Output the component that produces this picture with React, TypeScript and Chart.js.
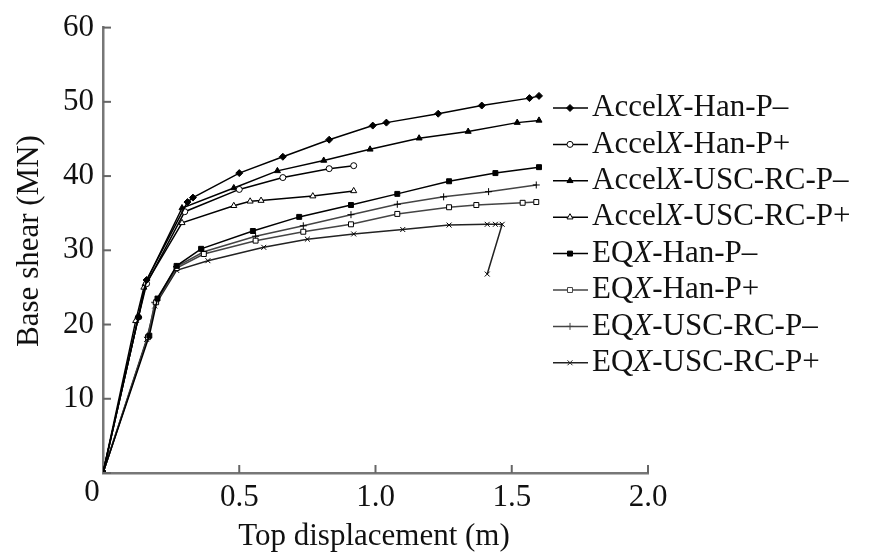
import React, { useEffect, useRef } from "react";
import { Chart, registerables } from "chart.js";
import { drawPoint } from "chart.js/helpers";

Chart.register(...registerables);

const FONT = '"Liberation Serif", "Times New Roman", serif';

const seriesLabels = [
  "AccelX-Han-P–",
  "AccelX-Han-P+",
  "AccelX-USC-RC-P–",
  "AccelX-USC-RC-P+",
  "EQX-Han-P–",
  "EQX-Han-P+",
  "EQX-USC-RC-P–",
  "EQX-USC-RC-P+",
];

const accelHanPmX = [0, 0.13, 0.16, 0.31, 0.33, 0.5, 0.66, 0.83, 0.99, 1.04, 1.23, 1.39, 1.565, 1.6];
const accelHanPmY = [0, 21, 26, 36.5, 37.1, 40.4, 42.6, 44.9, 46.8, 47.2, 48.4, 49.5, 50.5, 50.8];

const accelHanPpX = [0, 0.13, 0.16, 0.3, 0.5, 0.66, 0.83, 0.92];
const accelHanPpY = [0, 21, 25.5, 35.2, 38.2, 39.8, 41.0, 41.4];

const accelUscPmX = [0, 0.13, 0.155, 0.29, 0.48, 0.64, 0.81, 0.98, 1.16, 1.34, 1.52, 1.6];
const accelUscPmY = [0, 21, 25.5, 35.7, 38.4, 40.7, 42.1, 43.6, 45.1, 46.0, 47.2, 47.5];

const accelUscPpX = [0, 0.12, 0.15, 0.29, 0.48, 0.54, 0.58, 0.77, 0.92];
const accelUscPpY = [0, 20.5, 25, 33.7, 36.0, 36.6, 36.7, 37.3, 38.0];

const eqHanPmX = [0, 0.17, 0.2, 0.27, 0.36, 0.55, 0.72, 0.91, 1.08, 1.27, 1.44, 1.6];
const eqHanPmY = [0, 18.5, 23.5, 27.9, 30.2, 32.6, 34.5, 36.1, 37.6, 39.3, 40.4, 41.2];

const eqHanPpX = [0, 0.165, 0.195, 0.27, 0.37, 0.56, 0.735, 0.91, 1.08, 1.27, 1.37, 1.54, 1.59];
const eqHanPpY = [0, 18.3, 23, 27.6, 29.5, 31.3, 32.5, 33.5, 34.9, 35.8, 36.1, 36.4, 36.5];

const eqUscPmX = [0, 0.165, 0.19, 0.27, 0.37, 0.56, 0.735, 0.91, 1.08, 1.25, 1.415, 1.59];
const eqUscPmY = [0, 18.3, 23, 27.8, 29.8, 31.9, 33.3, 34.8, 36.2, 37.2, 37.9, 38.8];

const eqUscPpX = [0, 0.16, 0.19, 0.27, 0.385, 0.59, 0.75, 0.92, 1.1, 1.27, 1.41, 1.44, 1.465, 1.41];
const eqUscPpY = [0, 18, 22.5, 27.3, 28.6, 30.4, 31.5, 32.2, 32.8, 33.4, 33.5, 33.5, 33.5, 26.8];

const xTicks = [0, 0.5, 1.0, 1.5, 2.0];
const yTicks = [0, 10, 20, 30, 40, 50, 60];

const xTitle = "Top displacement (m)";
const yTitle = "Base shear (MN)";

type Style = { pointStyle: string; fill: string; line: string; radius: number };
const styles: Style[] = [
  { pointStyle: "rectRot", fill: "#000", line: "#000", radius: 3.5 },
  { pointStyle: "circle", fill: "#fff", line: "#000", radius: 3 },
  { pointStyle: "triangle", fill: "#000", line: "#000", radius: 3.5 },
  { pointStyle: "triangle", fill: "#fff", line: "#000", radius: 3.5 },
  { pointStyle: "rect", fill: "#000", line: "#000", radius: 3.5 },
  { pointStyle: "rect", fill: "#fff", line: "#444", radius: 3.5 },
  { pointStyle: "cross", fill: "#fff", line: "#444", radius: 3.5 },
  { pointStyle: "crossRot", fill: "#fff", line: "#222", radius: 3.5 },
];

const seriesXY: [number[], number[]][] = [
  [accelHanPmX, accelHanPmY],
  [accelHanPpX, accelHanPpY],
  [accelUscPmX, accelUscPmY],
  [accelUscPpX, accelUscPpY],
  [eqHanPmX, eqHanPmY],
  [eqHanPpX, eqHanPpY],
  [eqUscPmX, eqUscPmY],
  [eqUscPpX, eqUscPpY],
];

const decorPlugin = {
  id: "decor",
  afterDraw(chart: any) {
    const { ctx, chartArea, scales } = chart;
    const xs = scales.x;
    const ys = scales.y;
    ctx.save();
    // inward ticks
    ctx.strokeStyle = "#666";
    ctx.lineWidth = 2;
    for (const v of yTicks) {
      const py = ys.getPixelForValue(v);
      ctx.beginPath();
      ctx.moveTo(chartArea.left, py);
      ctx.lineTo(chartArea.left + 8, py);
      ctx.stroke();
    }
    for (const v of xTicks) {
      if (v === 0) continue;
      const px = xs.getPixelForValue(v);
      ctx.beginPath();
      ctx.moveTo(px, chartArea.bottom);
      ctx.lineTo(px, chartArea.bottom - 8);
      ctx.stroke();
    }
    ctx.fillStyle = "#111";
    ctx.font = `31px ${FONT}`;
    ctx.textBaseline = "middle";
    ctx.textAlign = "center";
    // shared origin label
    ctx.fillText("0", chartArea.left - 11, chartArea.bottom + 20);
    // axis titles
    ctx.fillText(xTitle, 374, 537);
    ctx.save();
    ctx.translate(30, 241);
    ctx.rotate(-Math.PI / 2);
    ctx.fillText(yTitle, 0, 0);
    ctx.restore();
    // legend
    ctx.textAlign = "left";
    for (let i = 0; i < seriesLabels.length; i++) {
      const y = 108 + i * 36.4;
      const st = styles[i];
      ctx.strokeStyle = st.line;
      ctx.lineWidth = 1.5;
      ctx.beginPath();
      ctx.moveTo(553, y);
      ctx.lineTo(588, y);
      ctx.stroke();
      ctx.fillStyle = st.fill;
      ctx.lineWidth = 1;
      drawPoint(ctx, { pointStyle: st.pointStyle as any, radius: st.radius, rotation: 0, borderWidth: 1 }, 570, y);
      const label = seriesLabels[i];
      const k = label.indexOf("X");
      const pre = label.slice(0, k);
      const post = label.slice(k + 1);
      let tx = 592;
      ctx.fillStyle = "#111";
      ctx.font = `31px ${FONT}`;
      ctx.fillText(pre, tx, y);
      tx += ctx.measureText(pre).width;
      ctx.font = `italic 31px ${FONT}`;
      ctx.fillText("X", tx, y);
      tx += ctx.measureText("X").width;
      ctx.font = `31px ${FONT}`;
      ctx.fillText(post, tx, y);
    }
    ctx.restore();
  },
};

export default function App() {
  const ref = useRef<HTMLCanvasElement | null>(null);
  useEffect(() => {
    if (!ref.current) return;
    Chart.defaults.font.family = FONT;
    const chart = new Chart(ref.current, {
      type: "scatter",
      data: {
        datasets: seriesXY.map(([xa, ya], i) => ({
          label: seriesLabels[i],
          data: xa.map((x, j) => ({ x, y: ya[j] })),
          showLine: true,
          borderColor: styles[i].line,
          backgroundColor: styles[i].fill,
          borderWidth: 1.5,
          pointStyle: styles[i].pointStyle as any,
          pointRadius: styles[i].radius,
          pointBorderWidth: 1,
          pointBorderColor: "#000",
          pointBackgroundColor: styles[i].fill,
          tension: 0,
        })),
      },
      options: {
        animation: false,
        responsive: true,
        maintainAspectRatio: false,
        layout: { padding: { top: 26, right: 228, left: 0, bottom: 0 } },
        plugins: { legend: { display: false }, tooltip: { enabled: false } },
        scales: {
          x: {
            type: "linear",
            min: 0,
            max: 2,
            afterFit: (s: any) => { s.height = 82; },
            afterBuildTicks: (s: any) => { s.ticks = xTicks.map((v) => ({ value: v })); },
            grid: { display: false, drawTicks: false },
            border: { display: true, color: "#777", width: 2.5 },
            ticks: {
              padding: 6,
              color: "#111",
              font: { size: 31, family: FONT },
              maxRotation: 0,
              callback: (v: any) => (Number(v) === 0 ? "" : Number(v).toFixed(1)),
            },
          },
          y: {
            type: "linear",
            min: 0,
            max: 60,
            afterFit: (s: any) => { s.width = 103; },
            afterBuildTicks: (s: any) => { s.ticks = yTicks.map((v) => ({ value: v })); },
            grid: { display: false, drawTicks: false },
            border: { display: true, color: "#777", width: 2.5 },
            ticks: {
              padding: 9,
              color: "#111",
              font: { size: 31, family: FONT },
              callback: (v: any) => (Number(v) === 0 ? "" : String(v)),
            },
          },
        },
      },
      plugins: [decorPlugin],
    });
    return () => chart.destroy();
  }, []);
  return (
    <div style={{ position: "fixed", left: 0, top: 0, width: 876, height: 555, background: "#fff" }}>
      <canvas ref={ref} />
    </div>
  );
}
